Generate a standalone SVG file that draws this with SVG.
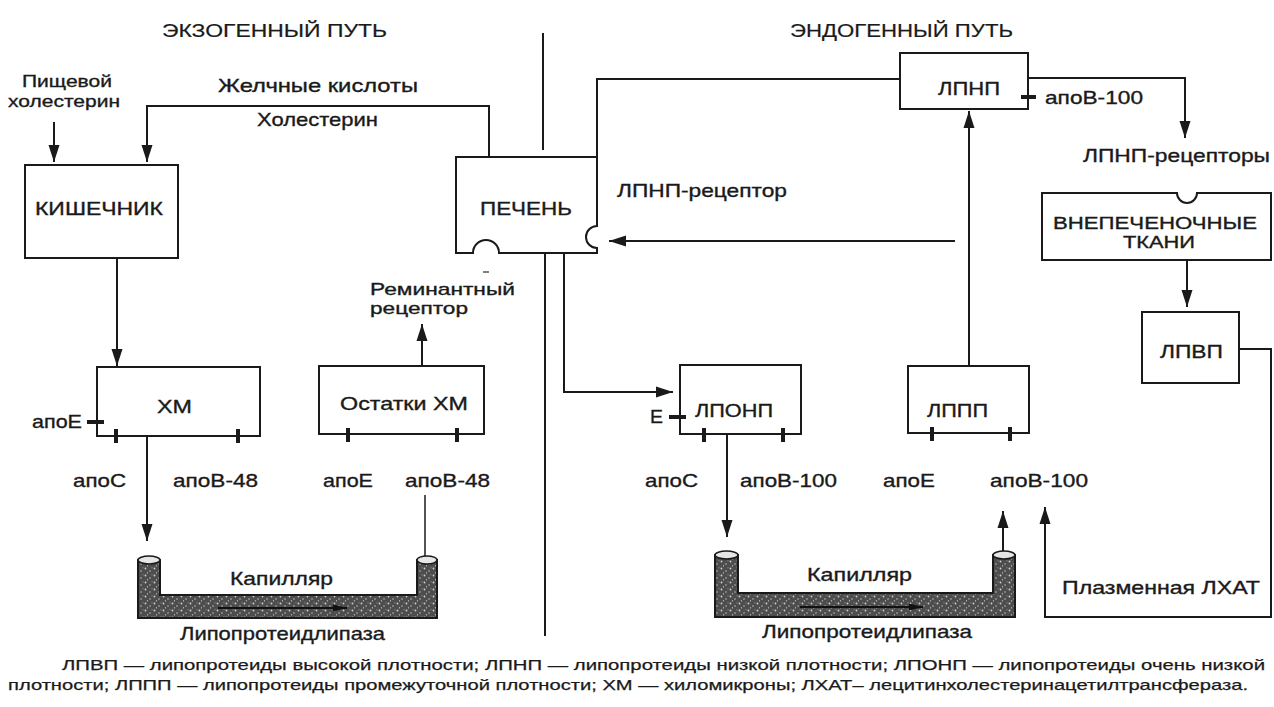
<svg xmlns="http://www.w3.org/2000/svg" width="1274" height="707" viewBox="0 0 1274 707">
<defs>
<style>
text{font-family:"Liberation Sans",Arial,sans-serif;fill:#1a1a1a;font-size:19px;stroke:#1a1a1a;stroke-width:0.35}
.hd{font-size:18px;stroke-width:0.2}
.two{font-size:17px}
.ft{font-size:15px;stroke-width:0.25}
.box{fill:#fff;stroke:#1a1a1a;stroke-width:2}
.ln{fill:none;stroke:#1a1a1a;stroke-width:2}
.tk{stroke:#1a1a1a;stroke-width:4}
.cap{fill:url(#stip);stroke:#1a1a1a;stroke-width:2}
.hole{fill:#e6e6e6;stroke:#1a1a1a;stroke-width:1.5}
</style>
<marker id="ah" markerUnits="userSpaceOnUse" markerWidth="17" markerHeight="12" refX="17" refY="6" orient="auto">
<path d="M0,0.5 L17,6 L0,11.5 Z" fill="#1a1a1a"/>
</marker>
<marker id="ahs" markerUnits="userSpaceOnUse" markerWidth="14" markerHeight="8" refX="14" refY="4" orient="auto">
<path d="M0,0.5 L14,4 L0,7.5 Z" fill="#111"/>
</marker>
<pattern id="stip" width="9" height="7" patternUnits="userSpaceOnUse">
<rect width="9" height="7" fill="#4d4d4d"/>
<circle cx="1.5" cy="1.5" r="0.9" fill="#d0d0d0"/>
<circle cx="6" cy="4" r="0.8" fill="#bbbbbb"/>
<circle cx="3.5" cy="5.8" r="0.6" fill="#e0e0e0"/>
<circle cx="8" cy="0.8" r="0.5" fill="#aaaaaa"/>
</pattern>
</defs>
<rect width="1274" height="707" fill="#fff"/>

<g id="headers">
<text class="hd" x="162" y="37" textLength="225" lengthAdjust="spacingAndGlyphs">ЭКЗОГЕННЫЙ ПУТЬ</text>
<text class="hd" x="790" y="37" textLength="223" lengthAdjust="spacingAndGlyphs">ЭНДОГЕННЫЙ ПУТЬ</text>
</g>

<g id="connectors">
<line class="ln" x1="543" y1="33" x2="543" y2="150"/>
<line class="ln" x1="545" y1="254" x2="545" y2="636"/>
<line class="ln" x1="54" y1="122" x2="54" y2="162" marker-end="url(#ah)"/>
<polyline class="ln" points="489,157 489,106 147,106 147,162" marker-end="url(#ah)"/>
<line class="ln" x1="117" y1="258" x2="117" y2="366" marker-end="url(#ah)"/>
<line class="ln" x1="147" y1="436" x2="147" y2="541" marker-end="url(#ah)"/>
<line class="ln" x1="425" y1="495" x2="425" y2="556" style="stroke-width:1.5"/>
<line class="ln" x1="422" y1="366" x2="422" y2="324" marker-end="url(#ah)"/>
<polyline class="ln" points="597,157 597,79 900,79"/>
<polyline class="ln" points="564,254 564,392 673,392" marker-end="url(#ah)"/>
<line class="ln" x1="727" y1="434" x2="727" y2="537" marker-end="url(#ah)"/>
<line class="ln" x1="1003" y1="552" x2="1003" y2="511" marker-end="url(#ah)"/>
<line class="ln" x1="969" y1="366" x2="969" y2="111" marker-end="url(#ah)"/>
<line class="ln" x1="955" y1="241" x2="609" y2="241" marker-end="url(#ah)"/>
<polyline class="ln" points="1028,78 1185,78 1185,138" marker-end="url(#ah)"/>
<line class="ln" x1="1187" y1="260" x2="1187" y2="307" marker-end="url(#ah)"/>
<polyline class="ln" points="1239,349 1271,349 1271,617 1045,617 1045,507" marker-end="url(#ah)"/>
</g>

<g id="node-intestine">
<rect class="box" x="25" y="165" width="153" height="93"/>
<text x="35" y="215" textLength="128" lengthAdjust="spacingAndGlyphs">КИШЕЧНИК</text>
</g>

<g id="node-liver">
<path class="box" d="M456,157 L597,157 L597,226 A11,11 0 0 0 597,248 L597,253 L499,253 A13,13 0 0 0 473,253 L456,253 Z"/>
<text x="480" y="215" textLength="92" lengthAdjust="spacingAndGlyphs">ПЕЧЕНЬ</text>
<line x1="483" y1="272" x2="489" y2="272" stroke="#555" stroke-width="1.5"/>
</g>

<g id="node-xm">
<rect class="box" x="97" y="367" width="163" height="69"/>
<text x="157" y="413" textLength="35" lengthAdjust="spacingAndGlyphs">ХМ</text>
<line class="tk" x1="87" y1="422" x2="104" y2="422"/>
<line class="tk" x1="116" y1="429" x2="116" y2="443"/>
<line class="tk" x1="238" y1="429" x2="238" y2="443"/>
</g>

<g id="node-remnants">
<rect class="box" x="319" y="366" width="165" height="68"/>
<text x="340" y="410" textLength="128" lengthAdjust="spacingAndGlyphs">Остатки ХМ</text>
<line class="tk" x1="348" y1="428" x2="348" y2="442"/>
<line class="tk" x1="457" y1="428" x2="457" y2="442"/>
</g>

<g id="node-vldl">
<rect class="box" x="680" y="365" width="121" height="69"/>
<text x="695" y="417" textLength="78" lengthAdjust="spacingAndGlyphs">ЛПОНП</text>
<line class="tk" x1="669" y1="417" x2="686" y2="417"/>
<line class="tk" x1="704" y1="428" x2="704" y2="442"/>
<line class="tk" x1="783" y1="428" x2="783" y2="442"/>
</g>

<g id="node-idl">
<rect class="box" x="908" y="366" width="121" height="67"/>
<text x="927" y="417" textLength="61" lengthAdjust="spacingAndGlyphs">ЛППП</text>
<line class="tk" x1="932" y1="427" x2="932" y2="441"/>
<line class="tk" x1="1010" y1="427" x2="1010" y2="441"/>
</g>

<g id="node-ldl">
<rect class="box" x="900" y="53" width="128" height="56"/>
<text x="938" y="95" textLength="62" lengthAdjust="spacingAndGlyphs">ЛПНП</text>
<line class="tk" x1="1021" y1="97" x2="1036" y2="97"/>
</g>

<g id="node-extrahepatic">
<path class="box" d="M1042,193 L1177,193 A10,10 0 0 0 1197,193 L1271,193 L1271,260 L1042,260 Z"/>
<text class="two" x="1053" y="229" textLength="204" lengthAdjust="spacingAndGlyphs">ВНЕПЕЧЕНОЧНЫЕ</text>
<text class="two" x="1123" y="248" textLength="72" lengthAdjust="spacingAndGlyphs">ТКАНИ</text>
</g>

<g id="node-hdl">
<rect class="box" x="1142" y="312" width="97" height="71"/>
<text x="1160" y="358" textLength="63" lengthAdjust="spacingAndGlyphs">ЛПВП</text>
</g>

<g id="capillary-left">
<path class="cap" d="M138,560 L138,618 L437,618 L437,560 L417,560 L417,595 L160,595 L160,560 Z"/>
<ellipse class="hole" cx="149" cy="560" rx="11" ry="4"/>
<ellipse class="hole" cx="427" cy="560" rx="10" ry="4"/>
<line x1="218" y1="608" x2="347" y2="608" stroke="#111" stroke-width="2" marker-end="url(#ahs)"/>
</g>

<g id="capillary-right">
<path class="cap" d="M715,555 L715,617 L1015,617 L1015,555 L993,555 L993,593 L738,593 L738,555 Z"/>
<ellipse class="hole" cx="726.5" cy="555" rx="11.5" ry="4"/>
<ellipse class="hole" cx="1004" cy="555" rx="11" ry="4"/>
<line x1="800" y1="607" x2="923" y2="607" stroke="#111" stroke-width="2" marker-end="url(#ahs)"/>
</g>

<g id="labels">
<text class="two" x="22" y="87" textLength="90" lengthAdjust="spacingAndGlyphs">Пищевой</text>
<text class="two" x="8" y="107" textLength="112" lengthAdjust="spacingAndGlyphs">холестерин</text>
<text x="218" y="92" textLength="200" lengthAdjust="spacingAndGlyphs">Желчные кислоты</text>
<text x="257" y="126" textLength="121" lengthAdjust="spacingAndGlyphs">Холестерин</text>
<text x="617" y="197" textLength="170" lengthAdjust="spacingAndGlyphs">ЛПНП-рецептор</text>
<text x="1045" y="104" textLength="98" lengthAdjust="spacingAndGlyphs">апоВ-100</text>
<text x="1083" y="162" textLength="187" lengthAdjust="spacingAndGlyphs">ЛПНП-рецепторы</text>
<text class="two" x="370" y="295" textLength="145" lengthAdjust="spacingAndGlyphs">Реминантный</text>
<text class="two" x="370" y="314" textLength="98" lengthAdjust="spacingAndGlyphs">рецептор</text>
<text x="32" y="428" textLength="50" lengthAdjust="spacingAndGlyphs">апоЕ</text>
<text x="73" y="487" textLength="53" lengthAdjust="spacingAndGlyphs">апоС</text>
<text x="173" y="487" textLength="85" lengthAdjust="spacingAndGlyphs">апоВ-48</text>
<text x="323" y="487" textLength="50" lengthAdjust="spacingAndGlyphs">апоЕ</text>
<text x="405" y="487" textLength="85" lengthAdjust="spacingAndGlyphs">апоВ-48</text>
<text x="650" y="423" textLength="13" lengthAdjust="spacingAndGlyphs">Е</text>
<text x="645" y="487" textLength="53" lengthAdjust="spacingAndGlyphs">апоС</text>
<text x="740" y="487" textLength="97" lengthAdjust="spacingAndGlyphs">апоВ-100</text>
<text x="883" y="487" textLength="52" lengthAdjust="spacingAndGlyphs">апоЕ</text>
<text x="990" y="487" textLength="98" lengthAdjust="spacingAndGlyphs">апоВ-100</text>
<text x="230" y="585" textLength="103" lengthAdjust="spacingAndGlyphs">Капилляр</text>
<text x="807" y="581" textLength="105" lengthAdjust="spacingAndGlyphs">Капилляр</text>
<text x="180" y="640" textLength="205" lengthAdjust="spacingAndGlyphs">Липопротеидлипаза</text>
<text x="762" y="638" textLength="210" lengthAdjust="spacingAndGlyphs">Липопротеидлипаза</text>
<text x="1062" y="594" textLength="198" lengthAdjust="spacingAndGlyphs">Плазменная ЛХАТ</text>
</g>

<g id="footer">
<text class="ft" x="62" y="670" textLength="1203" lengthAdjust="spacingAndGlyphs">ЛПВП — липопротеиды высокой плотности; ЛПНП — липопротеиды низкой плотности; ЛПОНП — липопротеиды очень низкой</text>
<text class="ft" x="8" y="690" textLength="1240" lengthAdjust="spacingAndGlyphs">плотности; ЛППП — липопротеиды промежуточной плотности; ХМ — хиломикроны; ЛХАТ–  лецитинхолестеринацетилтрансфераза.</text>
</g>
</svg>
